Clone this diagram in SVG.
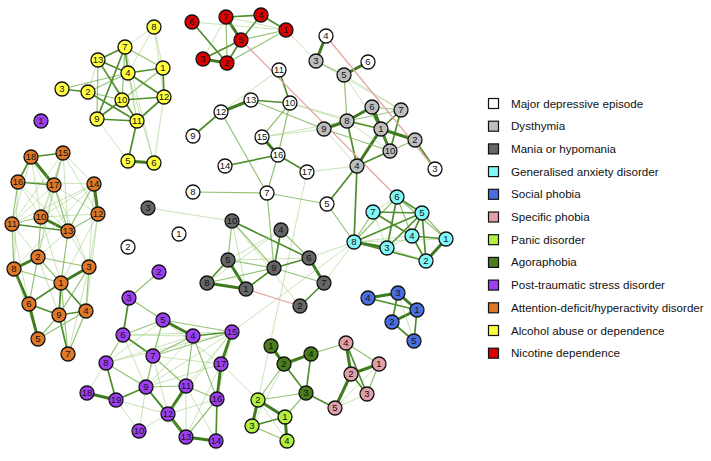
<svg xmlns="http://www.w3.org/2000/svg" width="711" height="461" viewBox="0 0 711 461">
<style>
.s{stroke:#3f7a1f;stroke-width:3}
.m{stroke:#4e8e2c;stroke-width:1.7}
.w{stroke:#6fae45;stroke-width:1.2;stroke-opacity:.75}
.v{stroke:#9ccc7c;stroke-width:1;stroke-opacity:.55}
.n{stroke:#e3a3a3;stroke-width:1.2}
.nd circle{stroke:#111;stroke-width:1.3}
.nd text,.lg text{font-family:"Liberation Sans",Arial,sans-serif;fill:#111}
.nd text{font-size:9.5px;text-anchor:middle}
.lg text{font-size:11.6px}
.lg rect{stroke:#111;stroke-width:1.2}
.mde{fill:#fff}.dys{fill:#bebebe}.man{fill:#666}.gad{fill:#80f8f8}.soc{fill:#4a6de0}.spe{fill:#e0a0a8}.pan{fill:#b2f040}.ago{fill:#4a7d1e}.pts{fill:#9d3ff0}.adh{fill:#e07828}.alc{fill:#ffff40}.nic{fill:#dd0000}
</style>
<rect width="711" height="461" fill="#fff"/>
<g id="connectors" fill="none">
<!-- alcohol -->
<line class="m" x1="98" y1="60" x2="125" y2="47"/>
<line class="m" x1="98" y1="60" x2="128" y2="73"/>
<line class="m" x1="125" y1="47" x2="128" y2="73"/>
<line class="v" x1="125" y1="47" x2="154" y2="27"/>
<line class="w" x1="125" y1="47" x2="163" y2="68"/>
<line class="v" x1="154" y1="27" x2="163" y2="68"/>
<line class="v" x1="154" y1="27" x2="128" y2="73"/>
<line class="v" x1="154" y1="27" x2="164" y2="97"/>
<line class="m" x1="128" y1="73" x2="163" y2="68"/>
<line class="m" x1="128" y1="73" x2="164" y2="97"/>
<line class="m" x1="163" y1="68" x2="164" y2="97"/>
<line class="m" x1="62" y1="89" x2="88" y2="92"/>
<line class="w" x1="62" y1="89" x2="128" y2="73"/>
<line class="w" x1="88" y1="92" x2="128" y2="73"/>
<line class="v" x1="88" y1="92" x2="98" y2="60"/>
<line class="w" x1="88" y1="92" x2="122" y2="100"/>
<line class="m" x1="88" y1="92" x2="137" y2="121"/>
<line class="w" x1="98" y1="60" x2="97" y2="119"/>
<line class="m" x1="98" y1="60" x2="137" y2="121"/>
<line class="v" x1="98" y1="60" x2="122" y2="100"/>
<line class="w" x1="125" y1="47" x2="122" y2="100"/>
<line class="m" x1="125" y1="47" x2="97" y2="119"/>
<line class="v" x1="125" y1="47" x2="137" y2="121"/>
<line class="v" x1="128" y1="73" x2="137" y2="121"/>
<line class="m" x1="122" y1="100" x2="97" y2="119"/>
<line class="m" x1="122" y1="100" x2="164" y2="97"/>
<line class="w" x1="122" y1="100" x2="163" y2="68"/>
<line class="m" x1="97" y1="119" x2="137" y2="121"/>
<line class="m" x1="137" y1="121" x2="164" y2="97"/>
<line class="m" x1="137" y1="121" x2="128" y2="161"/>
<line class="s" x1="128" y1="161" x2="154" y2="163"/>
<line class="v" x1="125" y1="47" x2="154" y2="163"/>
<line class="v" x1="128" y1="73" x2="154" y2="163"/>
<line class="v" x1="164" y1="97" x2="154" y2="163"/>
<line class="v" x1="97" y1="119" x2="128" y2="161"/>
<!-- nicotine -->
<line class="s" x1="226" y1="17" x2="241" y2="40"/>
<line class="m" x1="226" y1="17" x2="261" y2="15"/>
<line class="m" x1="261" y1="15" x2="241" y2="40"/>
<line class="m" x1="261" y1="15" x2="286" y2="30"/>
<line class="w" x1="241" y1="40" x2="286" y2="30"/>
<line class="v" x1="226" y1="17" x2="286" y2="30"/>
<line class="v" x1="192" y1="22" x2="286" y2="30"/>
<line class="m" x1="192" y1="22" x2="227" y2="63"/>
<line class="m" x1="203" y1="59" x2="241" y2="40"/>
<line class="s" x1="203" y1="59" x2="227" y2="63"/>
<line class="m" x1="227" y1="63" x2="241" y2="40"/>
<line class="w" x1="227" y1="63" x2="286" y2="30"/>
<line class="w" x1="226" y1="17" x2="227" y2="63"/>
<line class="v" x1="226" y1="17" x2="203" y2="59"/>
<line class="v" x1="286" y1="30" x2="316" y2="61"/>
<!-- MDE -->
<line class="m" x1="279" y1="70" x2="290" y2="103"/>
<line class="s" x1="221" y1="112" x2="251" y2="100"/>
<line class="m" x1="221" y1="112" x2="193" y2="136"/>
<line class="m" x1="251" y1="100" x2="290" y2="103"/>
<line class="v" x1="221" y1="112" x2="279" y2="70"/>
<line class="w" x1="290" y1="103" x2="262" y2="137"/>
<line class="w" x1="290" y1="103" x2="278" y2="155"/>
<line class="s" x1="262" y1="137" x2="278" y2="155"/>
<line class="m" x1="278" y1="155" x2="307" y2="172"/>
<line class="m" x1="278" y1="155" x2="225" y2="166"/>
<line class="w" x1="278" y1="155" x2="267" y2="193"/>
<line class="w" x1="267" y1="193" x2="193" y2="192"/>
<line class="w" x1="267" y1="193" x2="327" y2="204"/>
<line class="w" x1="221" y1="112" x2="267" y2="193"/>
<line class="w" x1="251" y1="100" x2="324" y2="129"/>
<line class="v" x1="262" y1="137" x2="324" y2="129"/>
<line class="v" x1="290" y1="103" x2="347" y2="121"/>
<line class="v" x1="290" y1="103" x2="381" y2="129"/>
<line class="v" x1="307" y1="172" x2="258" y2="400"/>
<line class="w" x1="267" y1="193" x2="274" y2="268"/>
<line class="w" x1="327" y1="204" x2="354" y2="242"/>
<line class="m" x1="327" y1="204" x2="357" y2="166"/>
<line class="m" x1="435" y1="169" x2="415" y2="140"/>
<line class="s" x1="326" y1="36" x2="316" y2="61"/>
<line class="w" x1="316" y1="61" x2="344" y2="75"/>
<line class="s" x1="344" y1="75" x2="368" y2="62"/>
<line class="w" x1="344" y1="75" x2="347" y2="121"/>
<line class="v" x1="148" y1="208" x2="232" y2="221"/>
<line class="v" x1="357" y1="166" x2="307" y2="172"/>
<line class="v" x1="262" y1="137" x2="347" y2="121"/>
<!-- dysthymia -->
<line class="s" x1="324" y1="129" x2="347" y2="121"/>
<line class="s" x1="347" y1="121" x2="372" y2="107"/>
<line class="m" x1="347" y1="121" x2="381" y2="129"/>
<line class="w" x1="347" y1="121" x2="401" y2="110"/>
<line class="s" x1="372" y1="107" x2="381" y2="129" style="stroke-width:4"/>
<line class="s" x1="372" y1="107" x2="390" y2="151"/>
<line class="w" x1="372" y1="107" x2="401" y2="110"/>
<line class="m" x1="401" y1="110" x2="381" y2="129"/>
<line class="m" x1="401" y1="110" x2="390" y2="151"/>
<line class="s" x1="381" y1="129" x2="415" y2="140"/>
<line class="m" x1="381" y1="129" x2="390" y2="151"/>
<line class="w" x1="390" y1="151" x2="415" y2="140"/>
<line class="s" x1="381" y1="129" x2="357" y2="166"/>
<line class="m" x1="390" y1="151" x2="357" y2="166"/>
<line class="m" x1="347" y1="121" x2="357" y2="166"/>
<line class="v" x1="324" y1="129" x2="357" y2="166"/>
<line class="v" x1="344" y1="75" x2="381" y2="129"/>
<line class="v" x1="344" y1="75" x2="401" y2="110"/>
<line class="v" x1="316" y1="61" x2="401" y2="110"/>
<line class="w" x1="324" y1="129" x2="390" y2="151"/>
<line class="v" x1="347" y1="121" x2="390" y2="151"/>
<line class="m" x1="357" y1="166" x2="354" y2="242"/>
<!-- mania -->
<line class="w" x1="232" y1="221" x2="228" y2="260"/>
<line class="w" x1="232" y1="221" x2="274" y2="268"/>
<line class="m" x1="232" y1="221" x2="309" y2="258"/>
<line class="v" x1="232" y1="221" x2="246" y2="289"/>
<line class="v" x1="232" y1="221" x2="300" y2="306"/>
<line class="m" x1="228" y1="260" x2="207" y2="283"/>
<line class="s" x1="228" y1="260" x2="246" y2="289"/>
<line class="w" x1="228" y1="260" x2="274" y2="268"/>
<line class="v" x1="228" y1="260" x2="309" y2="258"/>
<line class="s" x1="207" y1="283" x2="246" y2="289"/>
<line class="w" x1="207" y1="283" x2="274" y2="268"/>
<line class="m" x1="246" y1="289" x2="274" y2="268"/>
<line class="m" x1="274" y1="268" x2="281" y2="230"/>
<line class="m" x1="274" y1="268" x2="309" y2="258"/>
<line class="w" x1="281" y1="230" x2="309" y2="258"/>
<line class="v" x1="281" y1="230" x2="228" y2="260"/>
<line class="s" x1="309" y1="258" x2="324" y2="283"/>
<line class="w" x1="274" y1="268" x2="324" y2="283"/>
<line class="m" x1="324" y1="283" x2="300" y2="306"/>
<line class="v" x1="207" y1="283" x2="281" y2="230"/>
<line class="v" x1="324" y1="283" x2="354" y2="242"/>
<line class="v" x1="309" y1="258" x2="354" y2="242"/>
<!-- GAD -->
<line class="v" x1="397" y1="197" x2="373" y2="212"/>
<line class="m" x1="397" y1="197" x2="422" y2="213"/>
<line class="m" x1="397" y1="197" x2="387" y2="248"/>
<line class="w" x1="397" y1="197" x2="412" y2="236"/>
<line class="w" x1="397" y1="197" x2="446" y2="239"/>
<line class="w" x1="397" y1="197" x2="354" y2="242"/>
<line class="m" x1="373" y1="212" x2="422" y2="213"/>
<line class="m" x1="373" y1="212" x2="412" y2="236"/>
<line class="w" x1="373" y1="212" x2="354" y2="242"/>
<line class="m" x1="422" y1="213" x2="354" y2="242"/>
<line class="m" x1="422" y1="213" x2="412" y2="236"/>
<line class="m" x1="422" y1="213" x2="387" y2="248"/>
<line class="m" x1="422" y1="213" x2="426" y2="261"/>
<line class="w" x1="422" y1="213" x2="446" y2="239"/>
<line class="m" x1="412" y1="236" x2="446" y2="239"/>
<line class="m" x1="412" y1="236" x2="426" y2="261"/>
<line class="v" x1="412" y1="236" x2="387" y2="248"/>
<line class="s" x1="354" y1="242" x2="387" y2="248"/>
<line class="m" x1="354" y1="242" x2="426" y2="261"/>
<line class="v" x1="387" y1="248" x2="426" y2="261"/>
<line class="s" x1="446" y1="239" x2="426" y2="261"/>
<line class="v" x1="354" y1="242" x2="412" y2="236"/>
<line class="v" x1="354" y1="242" x2="446" y2="239"/>
<line class="v" x1="373" y1="212" x2="387" y2="248"/>
<!-- social -->
<line class="s" x1="368" y1="298" x2="398" y2="293"/>
<line class="m" x1="368" y1="298" x2="417" y2="310"/>
<line class="s" x1="398" y1="293" x2="417" y2="310"/>
<line class="m" x1="398" y1="293" x2="392" y2="322"/>
<line class="s" x1="417" y1="310" x2="392" y2="322"/>
<line class="m" x1="392" y1="322" x2="414" y2="341"/>
<line class="m" x1="417" y1="310" x2="414" y2="341"/>
<line class="v" x1="398" y1="293" x2="414" y2="341"/>
<!-- specific -->
<line class="s" x1="346" y1="343" x2="351" y2="374"/>
<line class="m" x1="346" y1="343" x2="367" y2="394"/>
<line class="w" x1="346" y1="343" x2="379" y2="364"/>
<line class="s" x1="351" y1="374" x2="379" y2="364"/>
<line class="m" x1="351" y1="374" x2="367" y2="394"/>
<line class="s" x1="351" y1="374" x2="335" y2="408"/>
<line class="w" x1="379" y1="364" x2="367" y2="394"/>
<line class="v" x1="379" y1="364" x2="335" y2="408"/>
<line class="v" x1="367" y1="394" x2="335" y2="408"/>
<line class="w" x1="346" y1="343" x2="311" y2="354"/>
<!-- agoraphobia / panic -->
<line class="s" x1="271" y1="346" x2="284" y2="364"/>
<line class="s" x1="284" y1="364" x2="311" y2="354"/>
<line class="m" x1="311" y1="354" x2="306" y2="393"/>
<line class="m" x1="284" y1="364" x2="306" y2="393"/>
<line class="m" x1="306" y1="393" x2="335" y2="408"/>
<line class="w" x1="306" y1="393" x2="285" y2="417"/>
<line class="w" x1="284" y1="364" x2="258" y2="400"/>
<line class="v" x1="284" y1="364" x2="252" y2="426"/>
<line class="s" x1="258" y1="400" x2="285" y2="417"/>
<line class="s" x1="258" y1="400" x2="252" y2="426"/>
<line class="m" x1="252" y1="426" x2="285" y2="417"/>
<line class="s" x1="285" y1="417" x2="287" y2="441"/>
<line class="w" x1="252" y1="426" x2="287" y2="441"/>
<line class="v" x1="258" y1="400" x2="287" y2="441"/>
<line class="w" x1="258" y1="400" x2="306" y2="393"/>
<!-- PTSD -->
<line class="w" x1="159" y1="272" x2="129" y2="298"/>
<line class="w" x1="129" y1="298" x2="163" y2="320"/>
<line class="m" x1="129" y1="298" x2="123" y2="335"/>
<line class="s" x1="163" y1="320" x2="193" y2="336"/>
<line class="w" x1="163" y1="320" x2="123" y2="335"/>
<line class="m" x1="193" y1="336" x2="232" y2="332"/>
<line class="s" x1="232" y1="332" x2="221" y2="364"/>
<line class="s" x1="221" y1="364" x2="217" y2="399"/>
<line class="m" x1="217" y1="399" x2="216" y2="441"/>
<line class="s" x1="216" y1="441" x2="186" y2="437"/>
<line class="s" x1="186" y1="437" x2="168" y2="414"/>
<line class="s" x1="168" y1="414" x2="186" y2="386"/>
<line class="m" x1="168" y1="414" x2="146" y2="387"/>
<line class="w" x1="146" y1="387" x2="153" y2="356"/>
<line class="m" x1="123" y1="335" x2="153" y2="356"/>
<line class="w" x1="123" y1="335" x2="106" y2="363"/>
<line class="m" x1="106" y1="363" x2="116" y2="400"/>
<line class="s" x1="87" y1="393" x2="116" y2="400"/>
<line class="m" x1="116" y1="400" x2="146" y2="387"/>
<line class="v" x1="116" y1="400" x2="139" y2="431"/>
<line class="m" x1="146" y1="387" x2="186" y2="437"/>
<line class="w" x1="106" y1="363" x2="146" y2="387"/>
<line class="w" x1="232" y1="332" x2="163" y2="320"/>
<line class="v" x1="232" y1="332" x2="123" y2="335"/>
<line class="w" x1="232" y1="332" x2="153" y2="356"/>
<line class="v" x1="232" y1="332" x2="106" y2="363"/>
<line class="v" x1="232" y1="332" x2="146" y2="387"/>
<line class="v" x1="232" y1="332" x2="186" y2="386"/>
<line class="v" x1="232" y1="332" x2="168" y2="414"/>
<line class="v" x1="232" y1="332" x2="217" y2="399"/>
<line class="v" x1="221" y1="364" x2="153" y2="356"/>
<line class="v" x1="221" y1="364" x2="146" y2="387"/>
<line class="v" x1="221" y1="364" x2="186" y2="437"/>
<line class="w" x1="193" y1="336" x2="153" y2="356"/>
<line class="w" x1="193" y1="336" x2="186" y2="386"/>
<line class="w" x1="193" y1="336" x2="217" y2="399"/>
<line class="w" x1="163" y1="320" x2="153" y2="356"/>
<line class="v" x1="163" y1="320" x2="146" y2="387"/>
<line class="v" x1="123" y1="335" x2="146" y2="387"/>
<line class="w" x1="153" y1="356" x2="186" y2="386"/>
<line class="v" x1="153" y1="356" x2="168" y2="414"/>
<line class="w" x1="186" y1="386" x2="217" y2="399"/>
<line class="v" x1="186" y1="386" x2="186" y2="437"/>
<line class="v" x1="168" y1="414" x2="217" y2="399"/>
<line class="w" x1="186" y1="437" x2="217" y2="399"/>
<line class="w" x1="146" y1="387" x2="186" y2="386"/>
<line class="v" x1="146" y1="387" x2="139" y2="431"/>
<line class="v" x1="139" y1="431" x2="168" y2="414"/>
<line class="v" x1="232" y1="332" x2="354" y2="242"/>
<line class="v" x1="221" y1="364" x2="258" y2="400"/>
<line class="v" x1="168" y1="414" x2="116" y2="400"/>
<line class="v" x1="106" y1="363" x2="87" y2="393"/>
<line class="v" x1="163" y1="320" x2="106" y2="363"/>
<line class="v" x1="193" y1="336" x2="146" y2="387"/>
<line class="v" x1="163" y1="320" x2="221" y2="364"/>
<line class="v" x1="186" y1="386" x2="216" y2="441"/>
<line class="v" x1="123" y1="335" x2="193" y2="336"/>
<line class="v" x1="106" y1="363" x2="193" y2="336"/>
<!-- ADHD -->
<line class="m" x1="31" y1="157" x2="63" y2="153"/>
<line class="m" x1="31" y1="157" x2="18" y2="182"/>
<line class="s" x1="31" y1="157" x2="54" y2="185"/>
<line class="m" x1="18" y1="182" x2="54" y2="185"/>
<line class="w" x1="63" y1="153" x2="54" y2="185"/>
<line class="v" x1="63" y1="153" x2="94" y2="184"/>
<line class="v" x1="63" y1="153" x2="98" y2="214"/>
<line class="v" x1="63" y1="153" x2="12" y2="224"/>
<line class="v" x1="63" y1="153" x2="68" y2="231"/>
<line class="v" x1="63" y1="153" x2="41" y2="217"/>
<line class="s" x1="94" y1="184" x2="98" y2="214"/>
<line class="w" x1="94" y1="184" x2="68" y2="231"/>
<line class="v" x1="94" y1="184" x2="41" y2="217"/>
<line class="v" x1="94" y1="184" x2="12" y2="224"/>
<line class="v" x1="94" y1="184" x2="18" y2="182"/>
<line class="v" x1="54" y1="185" x2="41" y2="217"/>
<line class="w" x1="54" y1="185" x2="68" y2="231"/>
<line class="v" x1="54" y1="185" x2="12" y2="224"/>
<line class="v" x1="54" y1="185" x2="98" y2="214"/>
<line class="v" x1="18" y1="182" x2="41" y2="217"/>
<line class="w" x1="18" y1="182" x2="12" y2="224"/>
<line class="v" x1="18" y1="182" x2="68" y2="231"/>
<line class="s" x1="41" y1="217" x2="68" y2="231"/>
<line class="w" x1="41" y1="217" x2="12" y2="224"/>
<line class="m" x1="12" y1="224" x2="68" y2="231"/>
<line class="v" x1="41" y1="217" x2="98" y2="214"/>
<line class="w" x1="98" y1="214" x2="68" y2="231"/>
<line class="w" x1="12" y1="224" x2="14" y2="269"/>
<line class="v" x1="12" y1="224" x2="38" y2="257"/>
<line class="w" x1="41" y1="217" x2="38" y2="257"/>
<line class="w" x1="68" y1="231" x2="61" y2="283"/>
<line class="v" x1="68" y1="231" x2="89" y2="267"/>
<line class="v" x1="98" y1="214" x2="89" y2="267"/>
<line class="s" x1="38" y1="257" x2="14" y2="269"/>
<line class="w" x1="38" y1="257" x2="61" y2="283"/>
<line class="w" x1="38" y1="257" x2="89" y2="267"/>
<line class="w" x1="38" y1="257" x2="29" y2="304"/>
<line class="v" x1="38" y1="257" x2="59" y2="315"/>
<line class="w" x1="14" y1="269" x2="61" y2="283"/>
<line class="s" x1="14" y1="269" x2="29" y2="304"/>
<line class="v" x1="14" y1="269" x2="38" y2="339"/>
<line class="s" x1="89" y1="267" x2="61" y2="283"/>
<line class="w" x1="89" y1="267" x2="86" y2="311"/>
<line class="w" x1="89" y1="267" x2="59" y2="315"/>
<line class="v" x1="89" y1="267" x2="68" y2="354"/>
<line class="m" x1="61" y1="283" x2="29" y2="304"/>
<line class="m" x1="61" y1="283" x2="86" y2="311"/>
<line class="m" x1="61" y1="283" x2="59" y2="315"/>
<line class="w" x1="61" y1="283" x2="68" y2="354"/>
<line class="m" x1="29" y1="304" x2="59" y2="315"/>
<line class="s" x1="29" y1="304" x2="38" y2="339"/>
<line class="w" x1="59" y1="315" x2="38" y2="339"/>
<line class="m" x1="59" y1="315" x2="86" y2="311"/>
<line class="m" x1="59" y1="315" x2="68" y2="354"/>
<line class="w" x1="86" y1="311" x2="38" y2="339"/>
<line class="w" x1="86" y1="311" x2="68" y2="354"/>
<line class="v" x1="98" y1="214" x2="86" y2="311"/>
<line class="v" x1="12" y1="224" x2="29" y2="304"/>
<line class="v" x1="41" y1="217" x2="61" y2="283"/>
<line class="v" x1="68" y1="231" x2="38" y2="257"/>
<line class="v" x1="94" y1="184" x2="89" y2="267"/>
<line class="v" x1="54" y1="185" x2="38" y2="257"/>
<line class="v" x1="31" y1="157" x2="41" y2="217"/>
<line class="v" x1="31" y1="157" x2="12" y2="224"/>
<line class="v" x1="31" y1="157" x2="68" y2="231"/>
<line class="v" x1="18" y1="182" x2="14" y2="269"/>
<line class="v" x1="98" y1="214" x2="61" y2="283"/>
<line class="v" x1="94" y1="184" x2="14" y2="269"/>
<line class="v" x1="63" y1="153" x2="38" y2="257"/>
<line class="v" x1="54" y1="185" x2="89" y2="267"/>
<!-- negative -->
<line class="n" x1="241" y1="40" x2="397" y2="197"/>
<line class="n" x1="326" y1="36" x2="435" y2="169"/>
<line class="n" x1="246" y1="289" x2="300" y2="306"/>
</g>
<g class="nd">
<g id="mde1"><circle class="mde" cx="179" cy="234" r="7"/><text x="179" y="237.4">1</text></g>
<g id="mde2"><circle class="mde" cx="128" cy="247" r="7"/><text x="128" y="250.4">2</text></g>
<g id="mde3"><circle class="mde" cx="435" cy="169" r="7"/><text x="435" y="172.4">3</text></g>
<g id="mde4"><circle class="mde" cx="326" cy="36" r="7"/><text x="326" y="39.4">4</text></g>
<g id="mde5"><circle class="mde" cx="327" cy="204" r="7"/><text x="327" y="207.4">5</text></g>
<g id="mde6"><circle class="mde" cx="368" cy="62" r="7"/><text x="368" y="65.4">6</text></g>
<g id="mde7"><circle class="mde" cx="267" cy="193" r="7"/><text x="267" y="196.4">7</text></g>
<g id="mde8"><circle class="mde" cx="193" cy="192" r="7"/><text x="193" y="195.4">8</text></g>
<g id="mde9"><circle class="mde" cx="193" cy="136" r="7"/><text x="193" y="139.4">9</text></g>
<g id="mde10"><circle class="mde" cx="290" cy="103" r="7"/><text x="290" y="106.4">10</text></g>
<g id="mde11"><circle class="mde" cx="279" cy="70" r="7"/><text x="279" y="73.4">11</text></g>
<g id="mde12"><circle class="mde" cx="221" cy="112" r="7"/><text x="221" y="115.4">12</text></g>
<g id="mde13"><circle class="mde" cx="251" cy="100" r="7"/><text x="251" y="103.4">13</text></g>
<g id="mde14"><circle class="mde" cx="225" cy="166" r="7"/><text x="225" y="169.4">14</text></g>
<g id="mde15"><circle class="mde" cx="262" cy="137" r="7"/><text x="262" y="140.4">15</text></g>
<g id="mde16"><circle class="mde" cx="278" cy="155" r="7"/><text x="278" y="158.4">16</text></g>
<g id="mde17"><circle class="mde" cx="307" cy="172" r="7"/><text x="307" y="175.4">17</text></g>

<g id="dys1"><circle class="dys" cx="381" cy="129" r="7"/><text x="381" y="132.4">1</text></g>
<g id="dys2"><circle class="dys" cx="415" cy="140" r="7"/><text x="415" y="143.4">2</text></g>
<g id="dys3"><circle class="dys" cx="316" cy="61" r="7"/><text x="316" y="64.4">3</text></g>
<g id="dys4"><circle class="dys" cx="357" cy="166" r="7"/><text x="357" y="169.4">4</text></g>
<g id="dys5"><circle class="dys" cx="344" cy="75" r="7"/><text x="344" y="78.4">5</text></g>
<g id="dys6"><circle class="dys" cx="372" cy="107" r="7"/><text x="372" y="110.4">6</text></g>
<g id="dys7"><circle class="dys" cx="401" cy="110" r="7"/><text x="401" y="113.4">7</text></g>
<g id="dys8"><circle class="dys" cx="347" cy="121" r="7"/><text x="347" y="124.4">8</text></g>
<g id="dys9"><circle class="dys" cx="324" cy="129" r="7"/><text x="324" y="132.4">9</text></g>
<g id="dys10"><circle class="dys" cx="390" cy="151" r="7"/><text x="390" y="154.4">10</text></g>

<g id="man1"><circle class="man" cx="246" cy="289" r="7"/><text x="246" y="292.4">1</text></g>
<g id="man2"><circle class="man" cx="300" cy="306" r="7"/><text x="300" y="309.4">2</text></g>
<g id="man3"><circle class="man" cx="148" cy="208" r="7"/><text x="148" y="211.4">3</text></g>
<g id="man4"><circle class="man" cx="281" cy="230" r="7"/><text x="281" y="233.4">4</text></g>
<g id="man5"><circle class="man" cx="228" cy="260" r="7"/><text x="228" y="263.4">5</text></g>
<g id="man6"><circle class="man" cx="309" cy="258" r="7"/><text x="309" y="261.4">6</text></g>
<g id="man7"><circle class="man" cx="324" cy="283" r="7"/><text x="324" y="286.4">7</text></g>
<g id="man8"><circle class="man" cx="207" cy="283" r="7"/><text x="207" y="286.4">8</text></g>
<g id="man9"><circle class="man" cx="274" cy="268" r="7"/><text x="274" y="271.4">9</text></g>
<g id="man10"><circle class="man" cx="232" cy="221" r="7"/><text x="232" y="224.4">10</text></g>

<g id="gad1"><circle class="gad" cx="446" cy="239" r="7"/><text x="446" y="242.4">1</text></g>
<g id="gad2"><circle class="gad" cx="426" cy="261" r="7"/><text x="426" y="264.4">2</text></g>
<g id="gad3"><circle class="gad" cx="387" cy="248" r="7"/><text x="387" y="251.4">3</text></g>
<g id="gad4"><circle class="gad" cx="412" cy="236" r="7"/><text x="412" y="239.4">4</text></g>
<g id="gad5"><circle class="gad" cx="422" cy="213" r="7"/><text x="422" y="216.4">5</text></g>
<g id="gad6"><circle class="gad" cx="397" cy="197" r="7"/><text x="397" y="200.4">6</text></g>
<g id="gad7"><circle class="gad" cx="373" cy="212" r="7"/><text x="373" y="215.4">7</text></g>
<g id="gad8"><circle class="gad" cx="354" cy="242" r="7"/><text x="354" y="245.4">8</text></g>

<g id="soc1"><circle class="soc" cx="417" cy="310" r="7"/><text x="417" y="313.4">1</text></g>
<g id="soc2"><circle class="soc" cx="392" cy="322" r="7"/><text x="392" y="325.4">2</text></g>
<g id="soc3"><circle class="soc" cx="398" cy="293" r="7"/><text x="398" y="296.4">3</text></g>
<g id="soc4"><circle class="soc" cx="368" cy="298" r="7"/><text x="368" y="301.4">4</text></g>
<g id="soc5"><circle class="soc" cx="414" cy="341" r="7"/><text x="414" y="344.4">5</text></g>

<g id="spe1"><circle class="spe" cx="379" cy="364" r="7"/><text x="379" y="367.4">1</text></g>
<g id="spe2"><circle class="spe" cx="351" cy="374" r="7"/><text x="351" y="377.4">2</text></g>
<g id="spe3"><circle class="spe" cx="367" cy="394" r="7"/><text x="367" y="397.4">3</text></g>
<g id="spe4"><circle class="spe" cx="346" cy="343" r="7"/><text x="346" y="346.4">4</text></g>
<g id="spe5"><circle class="spe" cx="335" cy="408" r="7"/><text x="335" y="411.4">5</text></g>

<g id="pan1"><circle class="pan" cx="285" cy="417" r="7"/><text x="285" y="420.4">1</text></g>
<g id="pan2"><circle class="pan" cx="258" cy="400" r="7"/><text x="258" y="403.4">2</text></g>
<g id="pan3"><circle class="pan" cx="252" cy="426" r="7"/><text x="252" y="429.4">3</text></g>
<g id="pan4"><circle class="pan" cx="287" cy="441" r="7"/><text x="287" y="444.4">4</text></g>

<g id="ago1"><circle class="ago" cx="271" cy="346" r="7"/><text x="271" y="349.4">1</text></g>
<g id="ago2"><circle class="ago" cx="284" cy="364" r="7"/><text x="284" y="367.4">2</text></g>
<g id="ago3"><circle class="ago" cx="306" cy="393" r="7"/><text x="306" y="396.4">3</text></g>
<g id="ago4"><circle class="ago" cx="311" cy="354" r="7"/><text x="311" y="357.4">4</text></g>

<g id="pts1"><circle class="pts" cx="41" cy="121" r="7"/><text x="41" y="124.4">1</text></g>
<g id="pts2"><circle class="pts" cx="159" cy="272" r="7"/><text x="159" y="275.4">2</text></g>
<g id="pts3"><circle class="pts" cx="129" cy="298" r="7"/><text x="129" y="301.4">3</text></g>
<g id="pts4"><circle class="pts" cx="193" cy="336" r="7"/><text x="193" y="339.4">4</text></g>
<g id="pts5"><circle class="pts" cx="163" cy="320" r="7"/><text x="163" y="323.4">5</text></g>
<g id="pts6"><circle class="pts" cx="123" cy="335" r="7"/><text x="123" y="338.4">6</text></g>
<g id="pts7"><circle class="pts" cx="153" cy="356" r="7"/><text x="153" y="359.4">7</text></g>
<g id="pts8"><circle class="pts" cx="106" cy="363" r="7"/><text x="106" y="366.4">8</text></g>
<g id="pts9"><circle class="pts" cx="146" cy="387" r="7"/><text x="146" y="390.4">9</text></g>
<g id="pts10"><circle class="pts" cx="139" cy="431" r="7"/><text x="139" y="434.4">10</text></g>
<g id="pts11"><circle class="pts" cx="186" cy="386" r="7"/><text x="186" y="389.4">11</text></g>
<g id="pts12"><circle class="pts" cx="168" cy="414" r="7"/><text x="168" y="417.4">12</text></g>
<g id="pts13"><circle class="pts" cx="186" cy="437" r="7"/><text x="186" y="440.4">13</text></g>
<g id="pts14"><circle class="pts" cx="216" cy="441" r="7"/><text x="216" y="444.4">14</text></g>
<g id="pts15"><circle class="pts" cx="232" cy="332" r="7"/><text x="232" y="335.4">15</text></g>
<g id="pts16"><circle class="pts" cx="217" cy="399" r="7"/><text x="217" y="402.4">16</text></g>
<g id="pts17"><circle class="pts" cx="221" cy="364" r="7"/><text x="221" y="367.4">17</text></g>
<g id="pts18"><circle class="pts" cx="87" cy="393" r="7"/><text x="87" y="396.4">18</text></g>
<g id="pts19"><circle class="pts" cx="116" cy="400" r="7"/><text x="116" y="403.4">19</text></g>

<g id="adh1"><circle class="adh" cx="61" cy="283" r="7"/><text x="61" y="286.4">1</text></g>
<g id="adh2"><circle class="adh" cx="38" cy="257" r="7"/><text x="38" y="260.4">2</text></g>
<g id="adh3"><circle class="adh" cx="89" cy="267" r="7"/><text x="89" y="270.4">3</text></g>
<g id="adh4"><circle class="adh" cx="86" cy="311" r="7"/><text x="86" y="314.4">4</text></g>
<g id="adh5"><circle class="adh" cx="38" cy="339" r="7"/><text x="38" y="342.4">5</text></g>
<g id="adh6"><circle class="adh" cx="29" cy="304" r="7"/><text x="29" y="307.4">6</text></g>
<g id="adh7"><circle class="adh" cx="68" cy="354" r="7"/><text x="68" y="357.4">7</text></g>
<g id="adh8"><circle class="adh" cx="14" cy="269" r="7"/><text x="14" y="272.4">8</text></g>
<g id="adh9"><circle class="adh" cx="59" cy="315" r="7"/><text x="59" y="318.4">9</text></g>
<g id="adh10"><circle class="adh" cx="41" cy="217" r="7"/><text x="41" y="220.4">10</text></g>
<g id="adh11"><circle class="adh" cx="12" cy="224" r="7"/><text x="12" y="227.4">11</text></g>
<g id="adh12"><circle class="adh" cx="98" cy="214" r="7"/><text x="98" y="217.4">12</text></g>
<g id="adh13"><circle class="adh" cx="68" cy="231" r="7"/><text x="68" y="234.4">13</text></g>
<g id="adh14"><circle class="adh" cx="94" cy="184" r="7"/><text x="94" y="187.4">14</text></g>
<g id="adh15"><circle class="adh" cx="63" cy="153" r="7"/><text x="63" y="156.4">15</text></g>
<g id="adh16"><circle class="adh" cx="18" cy="182" r="7"/><text x="18" y="185.4">16</text></g>
<g id="adh17"><circle class="adh" cx="54" cy="185" r="7"/><text x="54" y="188.4">17</text></g>
<g id="adh18"><circle class="adh" cx="31" cy="157" r="7"/><text x="31" y="160.4">18</text></g>

<g id="alc1"><circle class="alc" cx="163" cy="68" r="7"/><text x="163" y="71.4">1</text></g>
<g id="alc2"><circle class="alc" cx="88" cy="92" r="7"/><text x="88" y="95.4">2</text></g>
<g id="alc3"><circle class="alc" cx="62" cy="89" r="7"/><text x="62" y="92.4">3</text></g>
<g id="alc4"><circle class="alc" cx="128" cy="73" r="7"/><text x="128" y="76.4">4</text></g>
<g id="alc5"><circle class="alc" cx="128" cy="161" r="7"/><text x="128" y="164.4">5</text></g>
<g id="alc6"><circle class="alc" cx="154" cy="163" r="7"/><text x="154" y="166.4">6</text></g>
<g id="alc7"><circle class="alc" cx="125" cy="47" r="7"/><text x="125" y="50.4">7</text></g>
<g id="alc8"><circle class="alc" cx="154" cy="27" r="7"/><text x="154" y="30.4">8</text></g>
<g id="alc9"><circle class="alc" cx="97" cy="119" r="7"/><text x="97" y="122.4">9</text></g>
<g id="alc10"><circle class="alc" cx="122" cy="100" r="7"/><text x="122" y="103.4">10</text></g>
<g id="alc11"><circle class="alc" cx="137" cy="121" r="7"/><text x="137" y="124.4">11</text></g>
<g id="alc12"><circle class="alc" cx="164" cy="97" r="7"/><text x="164" y="100.4">12</text></g>
<g id="alc13"><circle class="alc" cx="98" cy="60" r="7"/><text x="98" y="63.4">13</text></g>

<g id="nic1"><circle class="nic" cx="286" cy="30" r="7"/><text x="286" y="33.4">1</text></g>
<g id="nic2"><circle class="nic" cx="227" cy="63" r="7"/><text x="227" y="66.4">2</text></g>
<g id="nic3"><circle class="nic" cx="203" cy="59" r="7"/><text x="203" y="62.4">3</text></g>
<g id="nic4"><circle class="nic" cx="261" cy="15" r="7"/><text x="261" y="18.4">4</text></g>
<g id="nic5"><circle class="nic" cx="241" cy="40" r="7"/><text x="241" y="43.4">5</text></g>
<g id="nic6"><circle class="nic" cx="192" cy="22" r="7"/><text x="192" y="25.4">6</text></g>
<g id="nic7"><circle class="nic" cx="226" cy="17" r="7"/><text x="226" y="20.4">7</text></g>
</g>
<g id="legend" class="lg">
<rect class="mde" x="488.5" y="98.5" width="10" height="10"/><text x="511" y="107.5">Major depressive episode</text>
<rect class="dys" x="488.5" y="121.2" width="10" height="10"/><text x="511" y="130.2">Dysthymia</text>
<rect class="man" x="488.5" y="143.9" width="10" height="10"/><text x="511" y="152.9">Mania or hypomania</text>
<rect class="gad" x="488.5" y="166.6" width="10" height="10"/><text x="511" y="175.6">Generalised anxiety disorder</text>
<rect class="soc" x="488.5" y="189.3" width="10" height="10"/><text x="511" y="198.3">Social phobia</text>
<rect class="spe" x="488.5" y="212" width="10" height="10"/><text x="511" y="221">Specific phobia</text>
<rect class="pan" x="488.5" y="234.7" width="10" height="10"/><text x="511" y="243.7">Panic disorder</text>
<rect class="ago" x="488.5" y="257.4" width="10" height="10"/><text x="511" y="266.4">Agoraphobia</text>
<rect class="pts" x="488.5" y="280.1" width="10" height="10"/><text x="511" y="289.1">Post-traumatic stress disorder</text>
<rect class="adh" x="488.5" y="302.8" width="10" height="10"/><text x="511" y="311.8">Attention-deficit/hyperactivity disorder</text>
<rect class="alc" x="488.5" y="325.5" width="10" height="10"/><text x="511" y="334.5">Alcohol abuse or dependence</text>
<rect class="nic" x="488.5" y="348.2" width="10" height="10"/><text x="511" y="357.2">Nicotine dependence</text>
</g>
</svg>
